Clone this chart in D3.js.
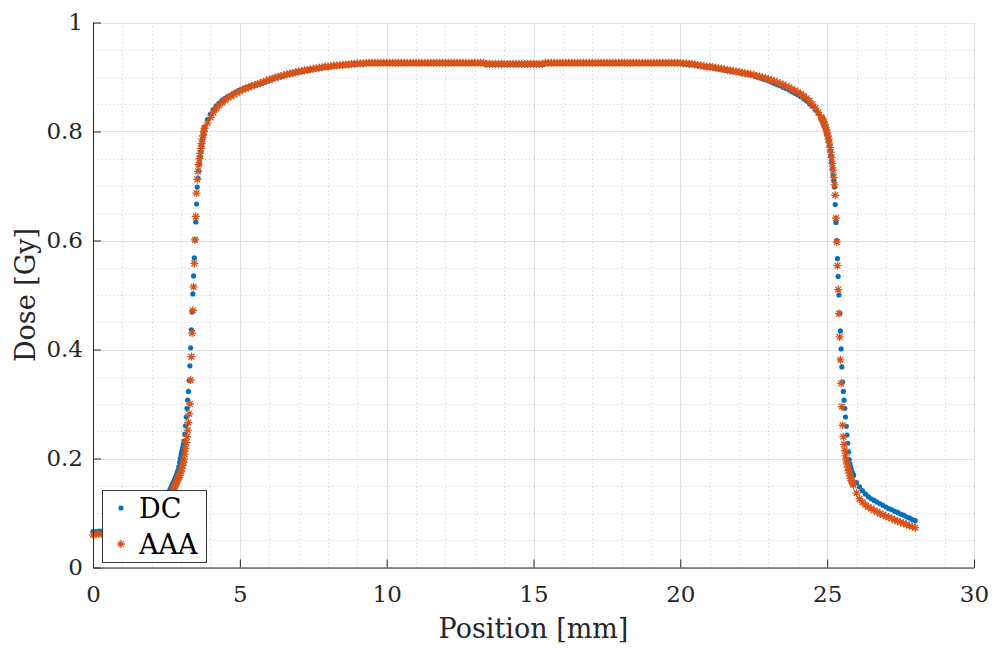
<!DOCTYPE html>
<html>
<head>
<meta charset="utf-8">
<script src="https://cdn.jsdelivr.net/npm/d3@7"></script>
<style>
  body { margin: 0; background: #fff; }
  svg { display: block; }
</style>
</head>
<body>
<div id="chart"></div>
<script>
// Part 1 (position in mm, dose in Gy)
var xPos = [
  0, 0.1, 0.2, 0.3, 0.4, 0.5, 0.6, 0.7, 0.8, 0.9,
  1, 1.1, 1.2, 1.3, 1.4, 1.5, 1.6, 1.7, 1.8, 1.9,
  2, 2.1, 2.2, 2.3, 2.4, 2.5, 2.6,
  // left penumbra, finer sampling
  2.625, 2.65, 2.675, 2.7, 2.725, 2.75, 2.775, 2.8, 2.825, 2.85,
  2.875, 2.9, 2.925, 2.95, 2.975, 3, 3.025, 3.05, 3.075, 3.1,
  3.125, 3.15, 3.175, 3.2, 3.225, 3.25, 3.275, 3.3, 3.325, 3.35,
  3.375, 3.4, 3.425, 3.45, 3.475, 3.5, 3.525, 3.55, 3.575, 3.6,
  3.625, 3.65, 3.675, 3.7, 3.725, 3.75, 3.775, 3.8,
  // plateau
  3.9,
  4, 4.1, 4.2, 4.3, 4.4, 4.5, 4.6, 4.7, 4.8, 4.9,
  5, 5.1, 5.2, 5.3, 5.4, 5.5, 5.6, 5.7, 5.8, 5.9,
  6, 6.1, 6.2, 6.3, 6.4, 6.5, 6.6, 6.7, 6.8, 6.9,
  7, 7.1, 7.2, 7.3, 7.4, 7.5, 7.6, 7.7, 7.8, 7.9,
  8, 8.1, 8.2, 8.3, 8.4, 8.5, 8.6, 8.7, 8.8, 8.9,
  9, 9.1, 9.2, 9.3, 9.4, 9.5, 9.6, 9.7, 9.8, 9.9,
  10, 10.1, 10.2, 10.3, 10.4, 10.5, 10.6, 10.7, 10.8, 10.9,
  11, 11.1, 11.2, 11.3, 11.4, 11.5, 11.6, 11.7, 11.8, 11.9,
  12, 12.1, 12.2, 12.3, 12.4, 12.5, 12.6, 12.7, 12.8, 12.9,
  13, 13.1, 13.2, 13.3, 13.4, 13.5, 13.6, 13.7, 13.8, 13.9,
  14, 14.1, 14.2, 14.3, 14.4, 14.5, 14.6, 14.7, 14.8, 14.9,
  15, 15.1, 15.2, 15.3, 15.4, 15.5, 15.6, 15.7, 15.8, 15.9,
  16, 16.1, 16.2, 16.3, 16.4, 16.5, 16.6, 16.7, 16.8, 16.9,
  17, 17.1, 17.2, 17.3, 17.4, 17.5, 17.6, 17.7, 17.8, 17.9,
  18, 18.1, 18.2, 18.3, 18.4, 18.5, 18.6, 18.7, 18.8, 18.9,
  19, 19.1, 19.2, 19.3, 19.4, 19.5, 19.6, 19.7, 19.8, 19.9,
  20, 20.1, 20.2, 20.3, 20.4, 20.5, 20.6, 20.7, 20.8, 20.9,
  21, 21.1, 21.2, 21.3, 21.4, 21.5, 21.6, 21.7, 21.8, 21.9,
  22, 22.1, 22.2, 22.3, 22.4, 22.5, 22.6, 22.7, 22.8, 22.9,
  23, 23.1, 23.2, 23.3, 23.4, 23.5, 23.6, 23.7, 23.8, 23.9,
  24, 24.1, 24.2, 24.3, 24.4, 24.5, 24.6, 24.7, 24.8,
  // right penumbra, finer sampling
  24.825, 24.85, 24.875, 24.9, 24.925, 24.95, 24.975, 25, 25.025, 25.05,
  25.075, 25.1, 25.125, 25.15, 25.175, 25.2, 25.225, 25.25, 25.275, 25.3,
  25.325, 25.35, 25.375, 25.4, 25.425, 25.45, 25.475, 25.5, 25.525, 25.55,
  25.575, 25.6, 25.625, 25.65, 25.675, 25.7, 25.725, 25.75, 25.775, 25.8,
  25.825, 25.85, 25.875, 25.9,
  // tail
  26, 26.1, 26.2, 26.3, 26.4, 26.5, 26.6, 26.7, 26.8, 26.9,
  27, 27.1, 27.2, 27.3, 27.4, 27.5, 27.6, 27.7, 27.8, 27.9, 28
];

var dcDose = [
  0.066, 0.066, 0.067, 0.067, 0.068, 0.068, 0.069, 0.070, 0.071, 0.072,
  0.073, 0.074, 0.075, 0.077, 0.078, 0.080, 0.082, 0.084, 0.087, 0.090,
  0.093, 0.097, 0.102, 0.108, 0.116, 0.126, 0.140,
  0.143, 0.146, 0.149, 0.152, 0.155, 0.158, 0.161, 0.164, 0.167, 0.171,
  0.175, 0.179, 0.185, 0.193, 0.200, 0.207, 0.213, 0.219, 0.226, 0.232,
  0.245, 0.260, 0.276, 0.292, 0.307, 0.323, 0.343, 0.370, 0.403, 0.436,
  0.469, 0.502, 0.535, 0.568, 0.601, 0.634, 0.667, 0.698, 0.714, 0.728,
  0.741, 0.753, 0.764, 0.774, 0.784, 0.793, 0.801, 0.808,
  0.822,
  0.832, 0.840, 0.847, 0.852, 0.857, 0.861, 0.864, 0.867, 0.870, 0.873,
  0.876, 0.878, 0.880, 0.882, 0.884, 0.885, 0.887, 0.888, 0.890, 0.892,
  0.894, 0.896, 0.898, 0.900, 0.901, 0.903, 0.904, 0.905, 0.907, 0.908,
  0.909, 0.910, 0.911, 0.912, 0.913, 0.914, 0.915, 0.916, 0.917, 0.918,
  0.918, 0.919, 0.920, 0.920, 0.921, 0.921, 0.922, 0.922, 0.923, 0.923,
  0.924, 0.924, 0.924, 0.925, 0.925, 0.925, 0.925, 0.925, 0.925, 0.925,
  0.925, 0.925, 0.925, 0.925, 0.925, 0.925, 0.925, 0.925, 0.925, 0.925,
  0.925, 0.925, 0.925, 0.925, 0.925, 0.925, 0.925, 0.925, 0.925, 0.925,
  0.925, 0.925, 0.925, 0.925, 0.925, 0.925, 0.925, 0.925, 0.925, 0.925,
  0.925, 0.925, 0.925, 0.925, 0.923, 0.923, 0.923, 0.923, 0.923, 0.923,
  0.923, 0.923, 0.923, 0.923, 0.923, 0.923, 0.923, 0.923, 0.923, 0.923,
  0.923, 0.923, 0.923, 0.923, 0.925, 0.925, 0.925, 0.925, 0.925, 0.925,
  0.925, 0.925, 0.925, 0.925, 0.925, 0.925, 0.925, 0.925, 0.925, 0.925,
  0.925, 0.925, 0.925, 0.925, 0.925, 0.925, 0.925, 0.925, 0.925, 0.925,
  0.925, 0.925, 0.925, 0.925, 0.925, 0.925, 0.925, 0.925, 0.925, 0.925,
  0.925, 0.925, 0.925, 0.925, 0.925, 0.925, 0.925, 0.925, 0.925, 0.925,
  0.925, 0.924, 0.924, 0.923, 0.923, 0.922, 0.921, 0.920, 0.919, 0.918,
  0.918, 0.917, 0.916, 0.915, 0.914, 0.913, 0.912, 0.911, 0.910, 0.909,
  0.908, 0.907, 0.906, 0.905, 0.904, 0.903, 0.901, 0.899, 0.897, 0.895,
  0.893, 0.891, 0.888, 0.886, 0.884, 0.881, 0.879, 0.876, 0.873, 0.870,
  0.867, 0.864, 0.860, 0.856, 0.851, 0.846, 0.840, 0.833, 0.825,
  0.823, 0.820, 0.817, 0.813, 0.809, 0.805, 0.800, 0.795, 0.789, 0.782,
  0.774, 0.765, 0.755, 0.744, 0.732, 0.720, 0.710, 0.698, 0.666, 0.633,
  0.600, 0.567, 0.534, 0.500, 0.467, 0.434, 0.401, 0.368, 0.340, 0.323,
  0.307, 0.292, 0.276, 0.259, 0.243, 0.228, 0.212, 0.198, 0.190, 0.184,
  0.179, 0.175, 0.172, 0.169,
  0.156, 0.148, 0.141, 0.135, 0.130, 0.126, 0.123, 0.120, 0.117, 0.114,
  0.111, 0.108, 0.106, 0.103, 0.101, 0.098, 0.096, 0.093, 0.091, 0.088, 0.086
];

var aaaDose = [
  0.060, 0.061, 0.061, 0.062, 0.062, 0.063, 0.064, 0.065, 0.066, 0.067,
  0.068, 0.069, 0.070, 0.072, 0.073, 0.075, 0.077, 0.079, 0.082, 0.085,
  0.088, 0.092, 0.097, 0.103, 0.110, 0.119, 0.130,
  0.132, 0.134, 0.137, 0.139, 0.142, 0.145, 0.148, 0.151, 0.154, 0.157,
  0.160, 0.163, 0.166, 0.169, 0.173, 0.177, 0.182, 0.187, 0.193, 0.199,
  0.208, 0.218, 0.229, 0.240, 0.252, 0.266, 0.282, 0.300, 0.344, 0.387,
  0.430, 0.472, 0.515, 0.558, 0.601, 0.644, 0.687, 0.712, 0.727, 0.739,
  0.750, 0.760, 0.769, 0.778, 0.786, 0.793, 0.800, 0.806,
  0.816,
  0.826, 0.835, 0.842, 0.848, 0.853, 0.858, 0.862, 0.865, 0.868, 0.871,
  0.874, 0.877, 0.879, 0.881, 0.883, 0.885, 0.887, 0.889, 0.891, 0.893,
  0.895, 0.897, 0.899, 0.900, 0.902, 0.903, 0.905, 0.906, 0.907, 0.909,
  0.910, 0.911, 0.912, 0.913, 0.914, 0.915, 0.916, 0.917, 0.918, 0.919,
  0.919, 0.920, 0.921, 0.921, 0.922, 0.922, 0.923, 0.923, 0.924, 0.924,
  0.925, 0.925, 0.925, 0.926, 0.926, 0.926, 0.926, 0.926, 0.926, 0.926,
  0.926, 0.926, 0.926, 0.926, 0.926, 0.926, 0.926, 0.926, 0.926, 0.926,
  0.926, 0.926, 0.926, 0.926, 0.926, 0.926, 0.926, 0.926, 0.926, 0.926,
  0.926, 0.926, 0.926, 0.926, 0.926, 0.926, 0.926, 0.926, 0.926, 0.926,
  0.926, 0.926, 0.926, 0.926, 0.924, 0.924, 0.924, 0.924, 0.924, 0.924,
  0.924, 0.924, 0.924, 0.924, 0.924, 0.924, 0.924, 0.924, 0.924, 0.924,
  0.924, 0.924, 0.924, 0.924, 0.926, 0.926, 0.926, 0.926, 0.926, 0.926,
  0.926, 0.926, 0.926, 0.926, 0.926, 0.926, 0.926, 0.926, 0.926, 0.926,
  0.926, 0.926, 0.926, 0.926, 0.926, 0.926, 0.926, 0.926, 0.926, 0.926,
  0.926, 0.926, 0.926, 0.926, 0.926, 0.926, 0.926, 0.926, 0.926, 0.926,
  0.926, 0.926, 0.926, 0.926, 0.926, 0.926, 0.926, 0.926, 0.926, 0.926,
  0.926, 0.925, 0.925, 0.924, 0.924, 0.923, 0.922, 0.921, 0.920, 0.919,
  0.919, 0.918, 0.917, 0.916, 0.915, 0.914, 0.913, 0.912, 0.911, 0.910,
  0.909, 0.908, 0.907, 0.906, 0.905, 0.904, 0.902, 0.901, 0.899, 0.898,
  0.896, 0.894, 0.892, 0.890, 0.888, 0.886, 0.883, 0.881, 0.878, 0.875,
  0.872, 0.869, 0.865, 0.861, 0.856, 0.850, 0.843, 0.835, 0.826,
  0.824, 0.821, 0.818, 0.814, 0.811, 0.807, 0.803, 0.798, 0.792, 0.786,
  0.779, 0.771, 0.762, 0.752, 0.741, 0.729, 0.716, 0.702, 0.683, 0.641,
  0.597, 0.554, 0.510, 0.466, 0.423, 0.381, 0.338, 0.295, 0.261, 0.240,
  0.226, 0.215, 0.205, 0.197, 0.190, 0.184, 0.178, 0.173, 0.168, 0.164,
  0.160, 0.157, 0.154, 0.151,
  0.137, 0.126, 0.120, 0.115, 0.111, 0.108, 0.105, 0.102, 0.099, 0.097,
  0.094, 0.092, 0.090, 0.087, 0.085, 0.083, 0.081, 0.079, 0.077, 0.075, 0.073
];

var seriesNames = ["DC", "AAA"];
var seriesColors = ["#0072BD", "#D95319"];
var xTicks = [0, 5, 10, 15, 20, 25, 30];
var yTicks = [0, 0.2, 0.4, 0.6, 0.8, 1];

// Part 2 - Canvas and scales
var width = 993;
var height = 649;
var plotLeft = 93, plotRight = 974, plotTop = 22.5, plotBottom = 567.5;
var tickLen = 8;
var serif = "'DejaVu Serif', 'Liberation Serif', serif";

var svg = d3
  .select("#chart")
  .append("svg")
  .attr("width", width)
  .attr("height", height);

var xScale = d3.scaleLinear().domain([0, 30]).range([plotLeft, plotRight]);
var yScale = d3.scaleLinear().domain([0, 1]).range([plotBottom, plotTop]);

// Part 3 - Grid (minor dotted, major solid)
var grid = svg.append("g").attr("class", "grid");

var xMinor = xScale.ticks(30).filter(function (d) { return d % 5 !== 0; });
var yMinor = yScale.ticks(20).filter(function (d) { return Math.round(d * 100) % 20 !== 0; });

grid.selectAll(".xminor").data(xMinor).enter().append("line")
  .attr("x1", function (d) { return Math.round(xScale(d)) + 0.5; })
  .attr("x2", function (d) { return Math.round(xScale(d)) + 0.5; })
  .attr("y1", plotTop).attr("y2", plotBottom)
  .attr("stroke", "#cfcfcf").attr("stroke-width", 1).attr("stroke-dasharray", "1,3");

grid.selectAll(".yminor").data(yMinor).enter().append("line")
  .attr("y1", function (d) { return Math.round(yScale(d)) + 0.5; })
  .attr("y2", function (d) { return Math.round(yScale(d)) + 0.5; })
  .attr("x1", plotLeft).attr("x2", plotRight)
  .attr("stroke", "#cfcfcf").attr("stroke-width", 1).attr("stroke-dasharray", "1,3");

grid.selectAll(".xmajor").data(xTicks).enter().append("line")
  .attr("x1", function (d) { return Math.round(xScale(d)) + 0.5; })
  .attr("x2", function (d) { return Math.round(xScale(d)) + 0.5; })
  .attr("y1", plotTop).attr("y2", plotBottom)
  .attr("stroke", "#e0e0e0").attr("stroke-width", 1);

grid.selectAll(".ymajor").data(yTicks).enter().append("line")
  .attr("y1", function (d) { return Math.round(yScale(d)) + 0.5; })
  .attr("y2", function (d) { return Math.round(yScale(d)) + 0.5; })
  .attr("x1", plotLeft).attr("x2", plotRight)
  .attr("stroke", "#e0e0e0").attr("stroke-width", 1);

// Part 4 - Markers
var dcData = xPos.map(function (x, i) { return { x: x, y: dcDose[i] }; });
var aaaData = xPos.map(function (x, i) { return { x: x, y: aaaDose[i] }; });

function starPath(cx, cy) {
  var r = 4, d = 2.9;
  return "M" + (cx - r) + "," + cy + "H" + (cx + r) +
    "M" + cx + "," + (cy - r) + "V" + (cy + r) +
    "M" + (cx - d) + "," + (cy - d) + "L" + (cx + d) + "," + (cy + d) +
    "M" + (cx - d) + "," + (cy + d) + "L" + (cx + d) + "," + (cy - d);
}

svg.append("g").attr("class", "dc")
  .selectAll("circle").data(dcData).enter().append("circle")
  .attr("cx", function (d) { return xScale(d.x); })
  .attr("cy", function (d) { return yScale(d.y); })
  .attr("r", 2.6)
  .attr("fill", seriesColors[0]);

svg.append("g").attr("class", "aaa")
  .selectAll("path").data(aaaData).enter().append("path")
  .attr("d", function (d) { return starPath(xScale(d.x), yScale(d.y)); })
  .attr("fill", "none")
  .attr("stroke", seriesColors[1])
  .attr("stroke-width", 1.3);

// Part 5 - Axes (box off, ticks inward)
var xAxis = d3.axisBottom(xScale).tickValues(xTicks).tickSize(-tickLen).tickSizeOuter(0)
  .tickPadding(18).tickFormat(d3.format("~g"));
var yAxis = d3.axisLeft(yScale).tickValues(yTicks).tickSize(-tickLen).tickSizeOuter(0)
  .tickPadding(10).tickFormat(d3.format("~g"));

var gx = svg.append("g").attr("transform", "translate(0," + plotBottom + ")").call(xAxis);
var gy = svg.append("g").attr("transform", "translate(" + plotLeft + ",0)").call(yAxis);

[gx, gy].forEach(function (g) {
  g.attr("font-family", serif).attr("font-size", 23);
  g.select(".domain").attr("stroke", "#262626").attr("stroke-width", 1);
  g.selectAll(".tick line").attr("stroke", "#262626").attr("stroke-width", 1);
  g.selectAll(".tick text").attr("fill", "#262626");
});

// Axis titles
svg.append("text")
  .attr("x", (plotLeft + plotRight) / 2)
  .attr("y", 638)
  .attr("text-anchor", "middle")
  .attr("fill", "#262626")
  .attr("font-family", serif)
  .attr("font-size", 27)
  .text("Position [mm]");

svg.append("text")
  .attr("transform", "translate(35," + (plotTop + plotBottom) / 2 + ")rotate(-90)")
  .attr("text-anchor", "middle")
  .attr("fill", "#262626")
  .attr("font-family", serif)
  .attr("font-size", 27)
  .text("Dose [Gy]");

// Part 6 - Legend
var legend = svg.append("g").attr("class", "legend");
legend.append("rect")
  .attr("x", 102.5).attr("y", 490.5)
  .attr("width", 104).attr("height", 72)
  .attr("fill", "#fff")
  .attr("stroke", "#3a3a3a")
  .attr("stroke-width", 1);

seriesNames.forEach(function (name, i) {
  var cy = 508 + i * 36;
  if (i === 0) {
    legend.append("circle").attr("cx", 121).attr("cy", cy).attr("r", 2.6).attr("fill", seriesColors[0]);
  } else {
    legend.append("path").attr("d", starPath(121, cy)).attr("fill", "none")
      .attr("stroke", seriesColors[1]).attr("stroke-width", 1.3);
  }
  legend.append("text")
    .attr("x", 139).attr("y", cy + 9.5)
    .attr("fill", "#000")
    .attr("font-family", serif)
    .attr("font-size", 27)
    .text(name);
});
</script>
</body>
</html>
